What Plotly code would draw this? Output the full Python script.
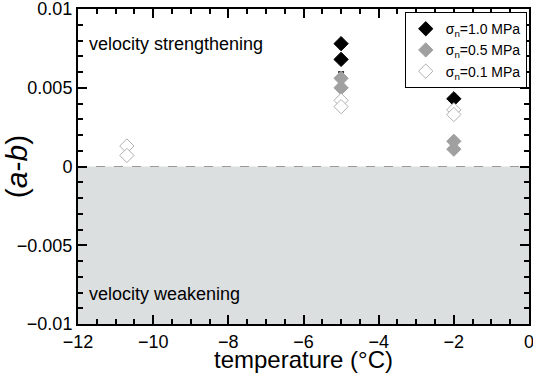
import plotly.graph_objects as go

# data
temp_10 = [-5, -5, -2]
ab_10 = [0.0078, 0.0068, 0.0043]
temp_05 = [-5, -5, -2, -2]
ab_05 = [0.0056, 0.0050, 0.0016, 0.0011]
err_05 = [0.0004, 0.0002, 0.0002, 0.0002]
temp_01 = [-10.7, -10.7, -5, -5, -2, -2]
ab_01 = [0.0013, 0.0007, 0.0042, 0.0038, 0.0036, 0.0033]
err_01 = [0.0001, 0.0001, 0.0002, 0.0002, 0.0001, 0.0001]

x_range = [-12, 0]
y_range = [-0.01, 0.01]

FONT = "Liberation Sans, Arial, sans-serif"

fig = go.Figure()
fig.add_shape(type="rect", xref="x", yref="y", x0=-12, x1=0, y0=-0.01, y1=0,
              fillcolor="#dcdfe0", line_width=0, layer="below")
fig.add_shape(type="line", xref="x", yref="y", x0=-12, x1=0, y0=0, y1=0,
              line=dict(color="#9a9a9a", width=1, dash="dash"), layer="below")

fig.add_trace(go.Scatter(x=temp_10, y=ab_10, mode="markers",
                         name="σ<sub>n</sub>=1.0 MPa",
                         marker=dict(symbol="diamond", size=11, color="black",
                                     line=dict(color="black", width=1))))
fig.add_trace(go.Scatter(x=temp_05, y=ab_05, mode="markers",
                         name="σ<sub>n</sub>=0.5 MPa",
                         error_y=dict(type="data", array=err_05, color="black",
                                      thickness=1.5, width=3),
                         marker=dict(symbol="diamond", size=11, color="#a0a0a0",
                                     line=dict(color="#a0a0a0", width=1))))
fig.add_trace(go.Scatter(x=temp_01, y=ab_01, mode="markers",
                         name="σ<sub>n</sub>=0.1 MPa",
                         error_y=dict(type="data", array=err_01, color="black",
                                      thickness=1.5, width=3),
                         marker=dict(symbol="diamond", size=11, color="white",
                                     line=dict(color="#b0b0b0", width=1))))

fig.add_annotation(x=-11.75, y=0.0078, xref="x", yref="y", text="velocity strengthening",
                   showarrow=False, xanchor="left", yanchor="middle",
                   font=dict(family=FONT, size=18, color="black"))
fig.add_annotation(x=-11.75, y=-0.0081, xref="x", yref="y", text="velocity weakening",
                   showarrow=False, xanchor="left", yanchor="middle",
                   font=dict(family=FONT, size=18, color="black"))

common = dict(showline=True, linecolor="black", linewidth=2, mirror="ticks",
              ticks="inside", ticklen=9, tickwidth=2, tickcolor="black",
              showgrid=False, zeroline=False, automargin=False,
              ticklabeloverflow="allow",
              tickfont=dict(family=FONT, size=18, color="black"))

fig.update_xaxes(range=x_range, tickmode="linear", tick0=-12, dtick=2,
                 title=dict(text="temperature (°C)", font=dict(family=FONT, size=24, color="black"),
                            standoff=4),
                 minor=dict(tickmode="linear", dtick=0.5, ticks="inside", ticklen=5,
                            tickwidth=2, tickcolor="black", showgrid=False),
                 **common)
fig.update_yaxes(range=y_range, tickmode="linear", tick0=-0.01, dtick=0.005,
                 title=dict(text="(<i>a</i>-<i>b</i>)", font=dict(family=FONT, size=30, color="black"),
                            standoff=8),
                 minor=dict(tickmode="linear", dtick=0.001, ticks="inside", ticklen=5,
                            tickwidth=2, tickcolor="black", showgrid=False),
                 **common)

fig.update_layout(width=533, height=373, margin=dict(l=78, r=4, t=9, b=49, autoexpand=False),
                  plot_bgcolor="white", paper_bgcolor="white",
                  separators=".,",
                  showlegend=True,
                  legend=dict(x=0.995, y=0.99, xanchor="right", yanchor="top",
                              bgcolor="white", bordercolor="black", borderwidth=1,
                              font=dict(family=FONT, size=14, color="black"),
                              itemwidth=30, tracegroupgap=0))

fig.write_html("out.html", config={"displayModeBar": False},
               post_script="document.body.style.margin='0';document.body.style.overflow='hidden';")
